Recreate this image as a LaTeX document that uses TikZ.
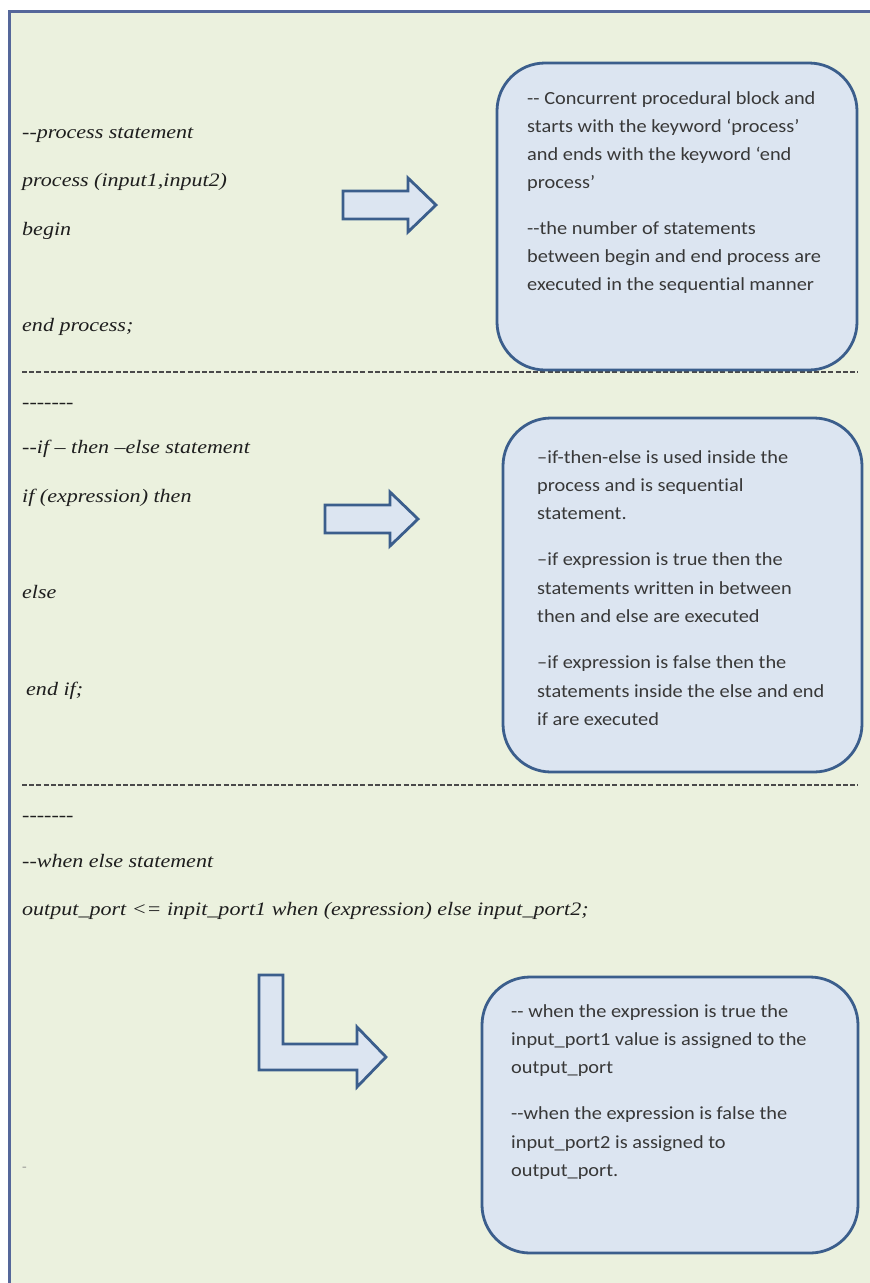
\documentclass[tikz,border=0pt]{standalone}
\usepackage{fontspec}
\setmainfont{Liberation Serif}[FakeStretch=1.16]
\newfontfamily\notefont{Carlito}[FakeStretch=1.1, Ligatures=NoCommon]
\definecolor{pagebg}{HTML}{EBF1DE}
\definecolor{framecol}{HTML}{55679A}
\definecolor{boxfill}{HTML}{DCE5F1}
\definecolor{boxline}{HTML}{3B5E8C}
\definecolor{codetext}{HTML}{1E1E1E}
\definecolor{notecol}{HTML}{383838}
\definecolor{rulecol}{HTML}{4A4A4A}
\newcommand{\notepar}[1]{\parbox[t]{330pt}{\raggedright #1}}
\tikzset{
  code/.style={anchor=base west, inner sep=0pt, text=codetext,
    font=\fontsize{19}{22}\selectfont\itshape},
  notetext/.style={anchor=base west, inner sep=0pt, text=notecol,
    font=\notefont\fontsize{18.5}{28.3}\selectfont},
  notebox/.style={draw=boxline, line width=2.8pt, fill=boxfill, rounded corners=48pt},
  blockarrow/.style={draw=boxline, line width=2.8pt, fill=boxfill, line join=miter},
  seprule/.style={draw=rulecol, line width=1.4pt, dash pattern=on 5pt off 2.2pt}
}
\begin{document}
\begin{tikzpicture}[x=1pt,y=-1pt]
\useasboundingbox (0,0) rectangle (870,1283);
% page and frame
\fill[white] (0,0) rectangle (870,1283);
\fill[pagebg] (9,11) rectangle (870,1283);
\draw[framecol, line width=3pt] (9.5,1283) -- (9.5,11) -- (870,11);

% separators between the three sections
\draw[seprule] (22,372) -- (858,372);
\draw[seprule] (22,785) -- (858,785);

% --- process statement ---
\node[code] (p1) at (22,138) {-{}-process statement};
\node[code] (p2) at (22,186) {process (input1,input2)};
\node[code] (p3) at (22,235) {begin};
\node[code] (p4) at (22,331) {end process;};

\draw[blockarrow] (343,191) -- (408,191) -- (408,178) -- (436,205)
  -- (408,232) -- (408,219) -- (343,219) -- cycle;

\draw[notebox] (497,63) rectangle (857,370);
\node[notetext] (n1) at (527,104) {\notepar{-{}- Concurrent procedural block and\\
starts with the keyword ‘process’\\
and ends with the keyword ‘end\\
process’\\[17pt]
-{}-the number of statements\\
between begin and end process are\\
executed in the sequential manner}};

% --- if-then-else statement ---
\node[code] (d1) at (22,408) {-{}-{}-{}-{}-{}-{}-};
\node[code] (i1) at (22,453) {-{}-if – then –else statement};
\node[code] (i2) at (22,502) {if (expression) then};
\node[code] (i3) at (22,598) {else};
\node[code] (i4) at (26,695) {end if;};

\draw[blockarrow] (325,505) -- (390,505) -- (390,492) -- (418,519)
  -- (390,546) -- (390,533) -- (325,533) -- cycle;

\draw[notebox] (503,418) rectangle (862,772);
\node[notetext] (n2) at (537,463) {\notepar{–if-then-else is used inside the\\
process and is sequential\\
statement.\\[18pt]
–if expression is true then the\\
statements written in between\\
then and else are executed\\[18pt]
–if expression is false then the\\
statements inside the else and end\\
if are executed}};

% --- when else statement ---
\node[code] (d2) at (22,821) {-{}-{}-{}-{}-{}-{}-};
\node[code] (w1) at (22,867) {-{}-when else statement};
\node[code] (w2) at (22,915) {output\_port <= inpit\_port1 when (expression) else input\_port2;};
\node[code, text=black!45, font=\fontsize{12}{14}\selectfont] (w3) at (22,1170) {-};

\draw[blockarrow] (259,975) -- (283,975) -- (283,1044) -- (357,1044)
  -- (357,1027) -- (386,1057) -- (357,1087) -- (357,1070) -- (259,1070) -- cycle;

\draw[notebox] (482,977) rectangle (858,1253);
\node[notetext] (n3) at (511,1017) {\notepar{-{}- when the expression is true the\\
input\_port1 value is assigned to the\\
output\_port\\[18pt]
-{}-when the expression is false the\\
input\_port2 is assigned to\\
output\_port.}};
\end{tikzpicture}
\end{document}
